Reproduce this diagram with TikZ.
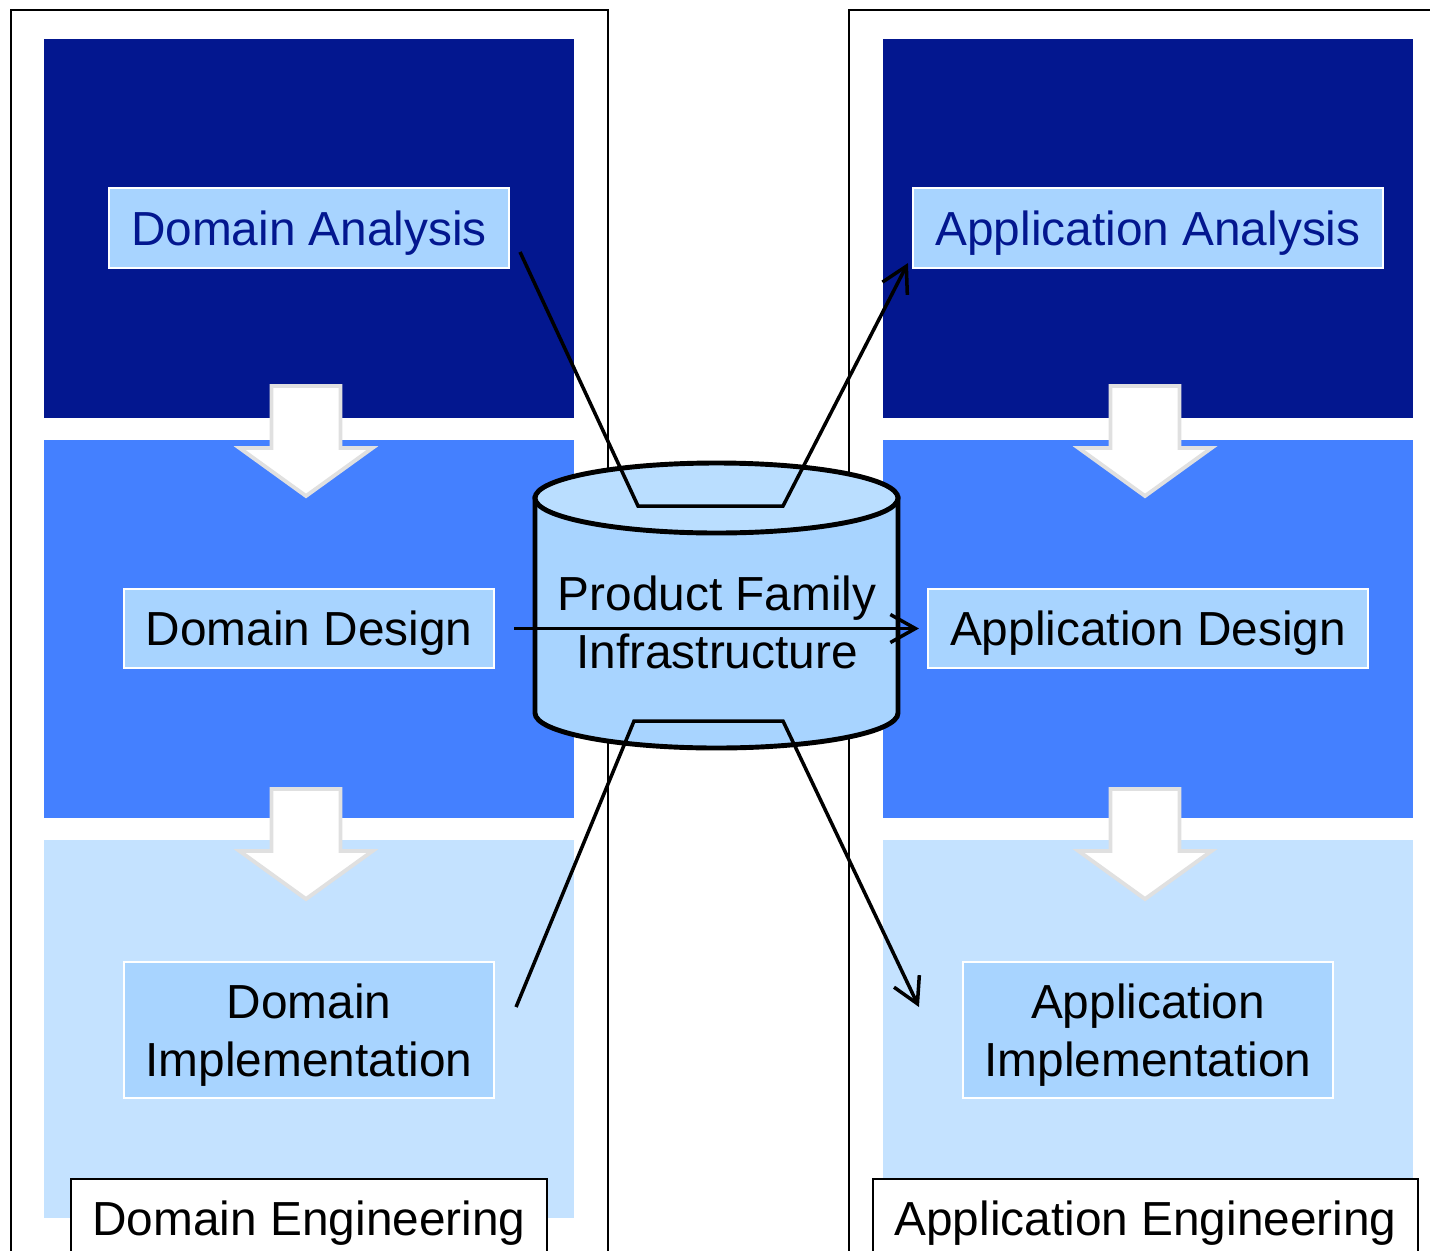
\documentclass[tikz,border=0pt]{standalone}
\usepackage{fontspec}
\setmainfont{Liberation Sans}
\usepackage{tikz}
\usetikzlibrary{positioning,arrows.meta}
\definecolor{navyband}{RGB}{3,23,143}
\definecolor{midband}{RGB}{68,128,255}
\definecolor{lightband}{RGB}{196,226,255}
\definecolor{boxfill}{RGB}{168,212,255}
\definecolor{cyltop}{RGB}{186,222,255}
\definecolor{arrowedge}{RGB}{224,224,224}
\tikzset{frame/.style={draw=black,line width=0.6pt},
	 stepbox/.style={rectangle,draw=white,fill=boxfill,line width=0.6pt,inner sep=0pt,align=center,text height=0.34cm,text depth=0cm},
	 twolines/.style={text height=0.92cm},
	 engbox/.style={rectangle,draw=black,fill=white,line width=0.6pt,inner sep=0pt,minimum height=0.78cm,anchor=north,text height=0.34cm,text depth=0cm},
	 blockarrow/.style={draw=arrowedge,fill=white,line width=1.1pt,line join=miter},
	 conn/.style={draw=black,line width=1pt},
	 flow/.style={conn,-{Straight Barb[length=2.5mm,width=2.8mm]}},
	 node distance = 1
	 }

\begin{document}
\begin{tikzpicture}[font=\fontsize{13.6pt}{16.5pt}\selectfont] % domain vs application engineering
	\useasboundingbox (0,0) rectangle (14.3,-12.5);
	\draw[frame] (0.11,-0.10) rectangle (6.08,-12.7);
	\draw[frame] (8.49,-0.10) rectangle (14.5,-12.7);
	\foreach \x in {0.44,8.83} {
		\fill[navyband] (\x,-0.39) rectangle ++(5.30,-3.79);
		\fill[midband] (\x,-4.40) rectangle ++(5.30,-3.78);
		\fill[lightband] (\x,-8.40) rectangle ++(5.30,-3.78);
	}
	\foreach \x/\y in {3.06/-3.86, 3.06/-7.89, 11.45/-3.86, 11.45/-7.89}
		\draw[blockarrow] (\x-0.345,\y) -- ++(0,-0.62) -- ++(-0.32,0) -- ++(0.665,-0.48)
			-- ++(0.665,0.48) -- ++(-0.32,0) -- ++(0,0.62) -- cycle;
	\node[stepbox,minimum width=4.00cm,minimum height=0.80cm,text=navyband] (da) at (3.09,-2.28) {Domain Analysis};
	\node[stepbox,minimum width=3.70cm,minimum height=0.79cm] (dd) at (3.09,-6.285) {Domain Design};
	\node[stepbox,twolines,minimum width=3.70cm,minimum height=1.36cm] (di) at (3.09,-10.30) {Domain\\Implementation};
	\node[stepbox,minimum width=4.70cm,minimum height=0.80cm,text=navyband] (aa) at (11.48,-2.28) {Application Analysis};
	\node[stepbox,minimum width=4.40cm,minimum height=0.79cm] (ad) at (11.48,-6.285) {Application Design};
	\node[stepbox,twolines,minimum width=3.70cm,minimum height=1.36cm] (ai) at (11.48,-10.30) {Application\\Implementation};
	\filldraw[fill=boxfill,line width=1.4pt] (5.35,-4.98) -- (5.35,-7.13)
		arc[start angle=180,end angle=360,x radius=1.815,y radius=0.35] -- (8.98,-4.98) -- cycle;
	\filldraw[fill=cyltop,line width=1.4pt] (7.165,-4.98) ellipse [x radius=1.815,y radius=0.35];
	\node[align=center,twolines,text depth=0cm,inner sep=0pt] (pfi) at (7.17,-6.22) {Product Family\\Infrastructure};
	\coordinate (ct1) at (6.38,-5.06); \coordinate (ct2) at (7.83,-5.06);
	\coordinate (cb1) at (6.34,-7.21); \coordinate (cb2) at (7.83,-7.21);
	\draw[flow] ([shift={(0.10,-0.24)}]da.east) -- (ct1) -- (ct2) -- ([shift={(-0.04,0.06)}]aa.south west);
	\draw[flow] ([shift={(0.19,0)}]dd.east) -- ([shift={(-0.08,0)}]ad.west);
	\draw[flow] ([shift={(0.21,0.23)}]di.east) -- (cb1) -- (cb2) -- ([shift={(-0.43,0.23)}]ai.west);
	\node[engbox,minimum width=4.76cm] (de) at (3.09,-11.78) {Domain Engineering};
	\node[engbox,minimum width=5.45cm] (ae) at (11.455,-11.78) {Application Engineering};
\end{tikzpicture}
\end{document}
